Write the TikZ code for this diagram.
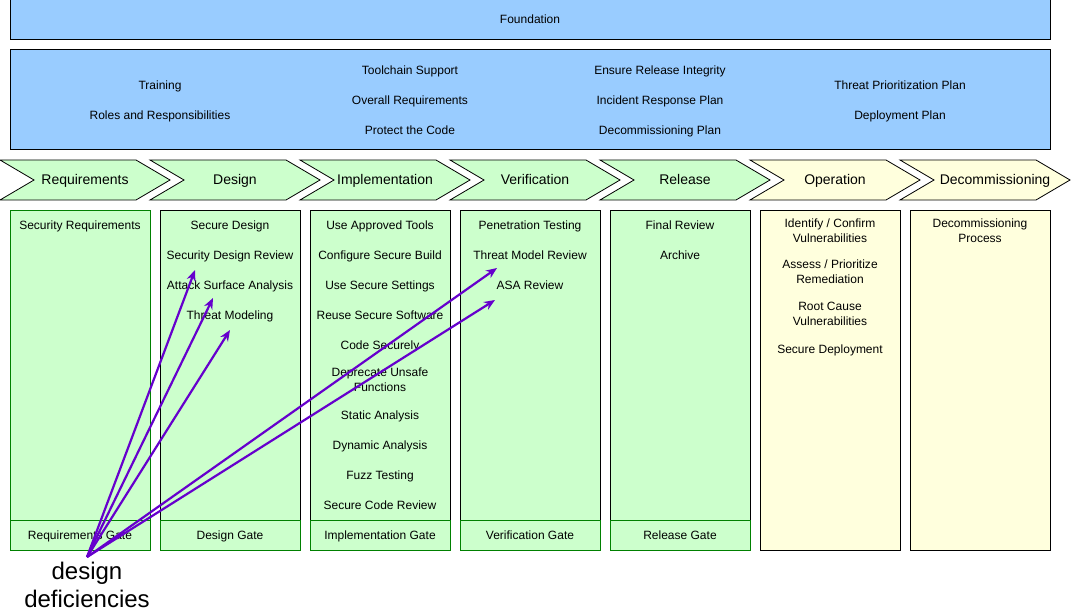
\documentclass[tikz,border=0pt]{standalone}
\usepackage{fontspec}
\setmainfont{Liberation Sans}
\usepackage{tikz}
\definecolor{fndblue}{HTML}{99CCFF}
\definecolor{phgreen}{HTML}{CCFFCC}
\definecolor{phyellow}{HTML}{FFFFDD}
\definecolor{gateline}{HTML}{008000}
\definecolor{ddpurple}{HTML}{6600CC}
\tikzset{
  lbl/.style={inner sep=0pt, text height=9.6pt, text depth=1pt, font=\fontsize{12}{15}\selectfont},
  lbltwo/.style={inner sep=0pt, align=center, font=\fontsize{12}{15}\selectfont},
  phase/.style={inner sep=0pt, text height=11pt, text depth=1pt, font=\fontsize{14}{16}\selectfont},
  bigbox/.style={draw=black, line width=1pt, fill=fndblue},
  stage/.style={draw=black, line width=0.8pt},
  col/.style={draw=black, line width=1pt},
  gatebox/.style={draw=gateline, line width=1pt, fill=phgreen},
  ddarrow/.style={draw=ddpurple, line width=2.2pt, -{Stealth[length=11pt,width=9pt]}}
}
\usetikzlibrary{arrows.meta}
\begin{document}
\begin{tikzpicture}[x=1pt,y=-1pt]
\useasboundingbox (0,0) rectangle (1071,615);

% foundation
\draw[bigbox] (10,0) rectangle (1050,40);
\node[lbl](foundation) at (530,19) {Foundation};
\draw[bigbox] (10,50) rectangle (1050,150);
\node[lbl](training) at (160,85) {Training};
\node[lbl](roles) at (160,115) {Roles and Responsibilities};
\node[lbl](toolchain) at (410,70) {Toolchain Support};
\node[lbl](overall) at (410,100) {Overall Requirements};
\node[lbl](protect) at (410,130) {Protect the Code};
\node[lbl](integrity) at (660,70) {Ensure Release Integrity};
\node[lbl](incident) at (660,100) {Incident Response Plan};
\node[lbl](decomplan) at (660,130) {Decommissioning Plan};
\node[lbl](prioplan) at (900,85) {Threat Prioritization Plan};
\node[lbl](deployplan) at (900,115) {Deployment Plan};

% phases
\draw[stage, fill=phgreen] (0,160) -- (136,160) -- (170,180) -- (136,200) -- (0,200) -- (34,180) -- cycle;
\draw[stage, fill=phgreen] (150,160) -- (286,160) -- (320,180) -- (286,200) -- (150,200) -- (184,180) -- cycle;
\draw[stage, fill=phgreen] (300,160) -- (436,160) -- (470,180) -- (436,200) -- (300,200) -- (334,180) -- cycle;
\draw[stage, fill=phgreen] (450,160) -- (586,160) -- (620,180) -- (586,200) -- (450,200) -- (484,180) -- cycle;
\draw[stage, fill=phgreen] (600,160) -- (736,160) -- (770,180) -- (736,200) -- (600,200) -- (634,180) -- cycle;
\draw[stage, fill=phyellow] (750,160) -- (886,160) -- (920,180) -- (886,200) -- (750,200) -- (784,180) -- cycle;
\draw[stage, fill=phyellow] (900,160) -- (1036,160) -- (1070,180) -- (1036,200) -- (900,200) -- (934,180) -- cycle;
\node[phase](requirements) at (85,180) {Requirements};
\node[phase](design) at (235,180) {Design};
\node[phase](implementation) at (385,180) {Implementation};
\node[phase](verification) at (535,180) {Verification};
\node[phase](release) at (685,180) {Release};
\node[phase](operation) at (835,180) {Operation};
\node[phase](decommissioning) at (995,180) {Decommissioning};

% columns
\draw[col, draw=gateline, fill=phgreen] (10,210) rectangle (150,520);
\draw[col, fill=phgreen] (160,210) rectangle (300,520);
\draw[col, fill=phgreen] (310,210) rectangle (450,520);
\draw[col, fill=phgreen] (460,210) rectangle (600,520);
\draw[col, fill=phgreen] (610,210) rectangle (750,520);
\draw[col, fill=phyellow] (760,210) rectangle (900,550);
\draw[col, fill=phyellow] (910,210) rectangle (1050,550);

% gates
\draw[gatebox] (10,520) rectangle (150,550);
\draw[gatebox] (160,520) rectangle (300,550);
\draw[gatebox] (310,520) rectangle (450,550);
\draw[gatebox] (460,520) rectangle (600,550);
\draw[gatebox] (610,520) rectangle (750,550);
\node[lbl](reqgate) at (80,535) {Requirements Gate};
\node[lbl](desgate) at (230,535) {Design Gate};
\node[lbl](impgate) at (380,535) {Implementation Gate};
\node[lbl](vergate) at (530,535) {Verification Gate};
\node[lbl](relgate) at (680,535) {Release Gate};

% requirements
\node[lbl](secreq) at (80,225) {Security Requirements};

% design
\node[lbl](secdesign) at (230,225) {Secure Design};
\node[lbl](secdesrev) at (230,255) {Security Design Review};
\node[lbl](attack) at (230,285) {Attack Surface Analysis};
\node[lbl](threatmod) at (230,315) {Threat Modeling};

% implementation
\node[lbl](tools) at (380,225) {Use Approved Tools};
\node[lbl](build) at (380,255) {Configure Secure Build};
\node[lbl](settings) at (380,285) {Use Secure Settings};
\node[lbl](reuse) at (380,315) {Reuse Secure Software};
\node[lbl](code) at (380,345) {Code Securely};
\node[lbltwo](deprecate) at (380,380) {Deprecate Unsafe\\Functions};
\node[lbl](static) at (380,415) {Static Analysis};
\node[lbl](dynamic) at (380,445) {Dynamic Analysis};
\node[lbl](fuzz) at (380,475) {Fuzz Testing};
\node[lbl](codereview) at (380,505) {Secure Code Review};

% verification
\node[lbl](pentest) at (530,225) {Penetration Testing};
\node[lbl](tmreview) at (530,255) {Threat Model Review};
\node[lbl](asareview) at (530,285) {ASA Review};

% release
\node[lbl](finalrev) at (680,225) {Final Review};
\node[lbl](archive) at (680,255) {Archive};

% operation
\node[lbltwo](identify) at (830,231) {Identify / Confirm\\Vulnerabilities};
\node[lbltwo](assess) at (830,272) {Assess / Prioritize\\Remediation};
\node[lbltwo](rootcause) at (830,314) {Root Cause\\Vulnerabilities};
\node[lbl](deploy) at (830,349) {Secure Deployment};

% decommissioning
\node[lbltwo](decomproc) at (980,231) {Decommissioning\\Process};

% design deficiencies
\node[inner sep=0pt, align=center, font=\fontsize{24}{28}\selectfont](dd) at (87,585) {design\\deficiencies};
\coordinate (src) at (87,557);
\coordinate (t1) at (195,270);
\coordinate (t2) at (213,298);
\coordinate (t3) at (230,330);
\coordinate (t4) at (497,268);
\coordinate (t5) at (495,300);
\draw[ddarrow] (src) -- (t1);
\draw[ddarrow] (src) -- (t2);
\draw[ddarrow] (src) -- (t3);
\draw[ddarrow] (src) -- (t4);
\draw[ddarrow] (src) -- (t5);
\end{tikzpicture}
\end{document}
